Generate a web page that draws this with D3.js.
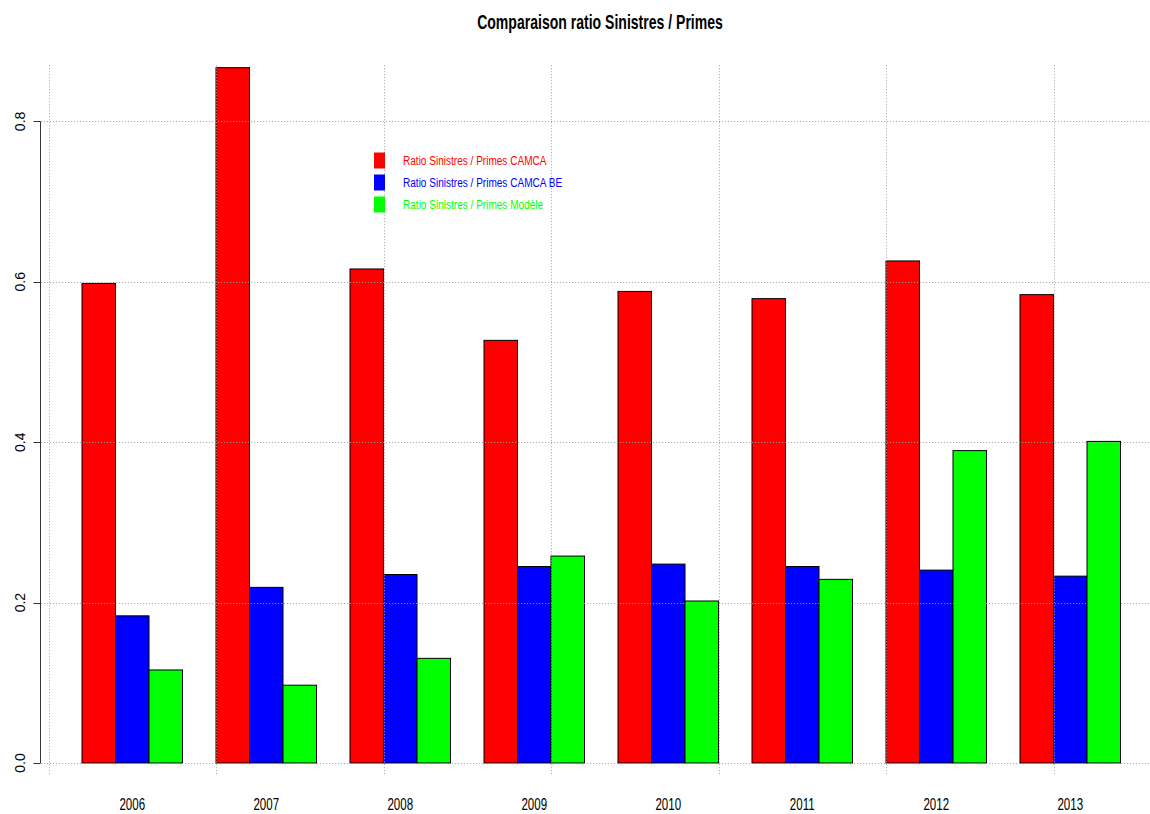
<!DOCTYPE html>
<html>
<head>
<meta charset="utf-8">
<script src="https://cdn.jsdelivr.net/npm/d3@7"></script>
<style>
  body { margin: 0; background: #fff; }
  svg { display: block; }
</style>
</head>
<body>
<svg id="chart" width="1150" height="814"></svg>
<script>
// ---- data ----
const years = ["2006", "2007", "2008", "2009", "2010", "2011", "2012", "2013"];
const ratioCAMCA   = [0.598, 0.867, 0.616, 0.527, 0.588, 0.579, 0.626, 0.584];
const ratioCAMCABE = [0.1835, 0.219, 0.235, 0.245, 0.248, 0.245, 0.2405, 0.233];
const ratioModele  = [0.116, 0.097, 0.1305, 0.258, 0.202, 0.229, 0.3895, 0.401];
const seriesNames  = ["Ratio Sinistres / Primes CAMCA", "Ratio Sinistres / Primes CAMCA BE", "Ratio Sinistres / Primes Mod\u00e8le"];
const seriesColors = ["#ff0000", "#0000ff", "#00ff00"];
const yTicks = [0.0, 0.2, 0.4, 0.6, 0.8];
const titleText = "Comparaison ratio Sinistres / Primes";

const series = [ratioCAMCA, ratioCAMCABE, ratioModele];

const svg = d3.select("#chart");
const sans = "'Liberation Sans', Arial, Helvetica, sans-serif";

// unit-based x scale like R barplot (bar width 1, group space 1)
const nUnits = years.length * (series.length + 1);
const x = d3.scaleLinear().domain([0, nUnits]).range([48.5, 1120.5]);
const y = d3.scaleLinear().domain([0, 0.8]).range([763, 121.4]);

// bars
const bars = [];
years.forEach((yr, i) => {
  series.forEach((s, j) => {
    bars.push({ u: 1 + i * (series.length + 1) + j, v: s[i], c: seriesColors[j] });
  });
});
svg.append("g").selectAll("rect").data(bars).join("rect")
  .attr("x", d => x(d.u))
  .attr("y", d => y(d.v))
  .attr("width", d => x(d.u + 1) - x(d.u))
  .attr("height", d => y(0) - y(d.v))
  .attr("fill", d => d.c)
  .attr("stroke", "#000")
  .attr("stroke-width", 1);

// grid (drawn on top like R's grid())
const grid = svg.append("g").attr("stroke", "#a0a0a0").attr("stroke-dasharray", "1,2").attr("stroke-width", 1);
grid.selectAll("line.h").data(yTicks).join("line")
  .attr("class", "h")
  .attr("x1", x(-0.22)).attr("x2", x(33.5))
  .attr("y1", d => Math.round(y(d)) + 0.5).attr("y2", d => Math.round(y(d)) + 0.5);
const vGrid = d3.range(0, 31, 5);
grid.selectAll("line.v").data(vGrid).join("line")
  .attr("class", "v")
  .attr("x1", d => Math.round(x(d)) + 0.5).attr("x2", d => Math.round(x(d)) + 0.5)
  .attr("y1", y(0.87)).attr("y2", y(-0.016));

// y axis
const yAxis = svg.append("g").attr("transform", "translate(40.5,0)");
yAxis.append("line")
  .attr("x1", 0).attr("x2", 0)
  .attr("y1", y(0.8)).attr("y2", y(0))
  .attr("stroke", "#333");
yAxis.selectAll("line.tick").data(yTicks).join("line")
  .attr("class", "tick")
  .attr("x1", -7).attr("x2", 0)
  .attr("y1", d => Math.round(y(d)) + 0.5).attr("y2", d => Math.round(y(d)) + 0.5)
  .attr("stroke", "#333");
svg.append("g").selectAll("text").data(yTicks).join("text")
  .attr("transform", d => `translate(25,${y(d)}) rotate(-90)`)
  .attr("text-anchor", "middle")
  .attr("font-family", sans)
  .attr("font-size", 14)
  .attr("fill", "#000")
  .text(d => d.toFixed(1));

// x labels (horizontally condensed text)
svg.append("g").selectAll("text").data(years).join("text")
  .attr("transform", (d, i) => `translate(${x(1 + i * (series.length + 1) + series.length / 2)},810) scale(0.7,1)`)
  .attr("text-anchor", "middle")
  .attr("font-family", sans)
  .attr("font-size", 16.5)
  .attr("fill", "#000")
  .text(d => d);

// title
svg.append("text")
  .attr("transform", "translate(600,29) scale(0.72,1)")
  .attr("text-anchor", "middle")
  .attr("font-family", sans)
  .attr("font-weight", "bold")
  .attr("font-size", 19.5)
  .attr("fill", "#000")
  .text(titleText);

// legend
const leg = svg.append("g");
seriesNames.forEach((name, i) => {
  const cy = 160.5 + i * 22;
  leg.append("rect")
    .attr("x", 374).attr("y", cy - 8)
    .attr("width", 11).attr("height", 16)
    .attr("fill", seriesColors[i]);
  leg.append("text")
    .attr("transform", `translate(403,${cy + 4.5}) scale(0.745,1)`)
    .attr("font-family", sans)
    .attr("font-size", 13.5)
    .attr("fill", seriesColors[i])
    .text(name);
});
</script>
</body>
</html>
